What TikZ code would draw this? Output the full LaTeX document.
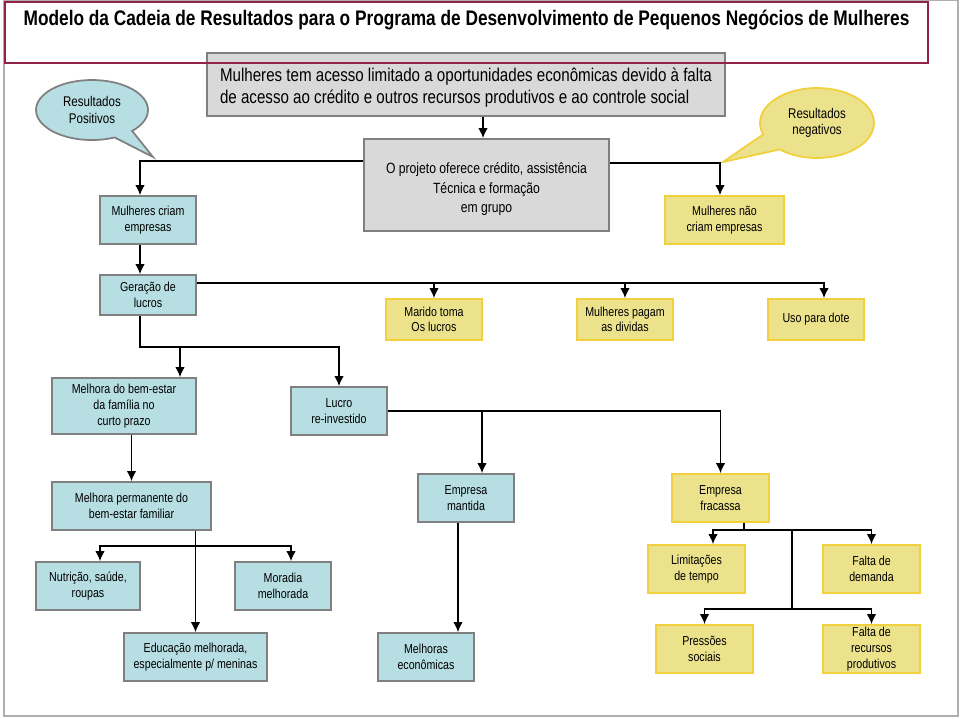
\documentclass[tikz,border=0pt]{standalone}
\usepackage{fontspec}
\setmainfont{Liberation Sans}[FakeStretch=0.82]
\usetikzlibrary{arrows.meta,shapes.callouts}
\definecolor{cxblue}{RGB}{183,222,226}
\definecolor{cxyellow}{RGB}{236,226,140}
\definecolor{cxgold}{RGB}{240,208,60}
\definecolor{cxgray}{RGB}{217,217,217}
\definecolor{cxline}{RGB}{128,128,128}
\definecolor{cxframe}{RGB}{175,175,175}
\definecolor{cxred}{RGB}{145,35,75}
\tikzset{
  box/.style={draw=cxline, line width=1pt, align=center, inner sep=1pt, font=\fontsize{7.4}{8.9}\selectfont},
  bluebox/.style={box, fill=cxblue},
  yellowbox/.style={box, fill=cxyellow, draw=cxgold},
  graybox/.style={box, fill=cxgray},
  wh/.style 2 args={minimum width=#1*0.02cm, minimum height=#2*0.02cm},
  bubble/.style={ellipse callout, line width=1pt, align=center, inner sep=0pt, font=\fontsize{8}{9.2}\selectfont},
  arr/.style={-{Latex[length=2mm,width=1.9mm]}, line width=0.9pt},
  ln/.style={line width=0.9pt}
}
\begin{document}
\begin{tikzpicture}[x=0.02cm,y=-0.02cm]
      \useasboundingbox (0,0) rectangle (960,718);
      \draw[cxframe, line width=1pt] (4,0) rectangle (958,716);
      \node[graybox, wh={518}{63}, align=left, font=\fontsize{10.5}{12.4}\selectfont] (top) at (466,84.5) {\rule{0pt}{11pt}Mulheres tem acesso limitado a oportunidades econômicas devido à falta\\de acesso ao crédito e outros recursos produtivos e ao controle social};
      \draw[cxred, line width=1pt] (5,2) rectangle (928,63);
      \node[font=\bfseries\fontsize{12}{14}\selectfont] (title) at (466.5,20) {Modelo da Cadeia de Resultados para o Programa de Desenvolvimento de Pequenos Negócios de Mulheres};
      \coordinate (postip) at (153,157);
      \coordinate (negtip) at (723,162);
      \node[bubble, draw=cxline, fill=cxblue, wh={112}{60}, callout absolute pointer={(postip)}, callout pointer arc=22] (pos) at (92,110) {Resultados\\Positivos};
      \node[bubble, draw=cxgold, fill=cxyellow, wh={114}{70}, callout absolute pointer={(negtip)}, callout pointer arc=30] (neg) at (817,123) {Resultados\\negativos};
      \node[graybox, wh={245}{92}, font=\fontsize{8.45}{11.1}\selectfont] (projeto) at (486.5,185) {\rule{0pt}{11pt}O projeto oferece crédito, assistência\\Técnica e formação\\em grupo};
      \node[bluebox, wh={96}{48}] (criam) at (148,220) {Mulheres criam\\empresas};
      \node[yellowbox, wh={119}{48}] (naocriam) at (724.5,220) {Mulheres não\\criam empresas};
      \node[bluebox, wh={96}{40}] (geracao) at (148,295) {Geração de\\lucros};
      \node[yellowbox, wh={96}{41}] (marido) at (434,319.5) {Marido toma\\Os lucros};
      \node[yellowbox, wh={96}{41}] (pagam) at (625,319.5) {Mulheres pagam\\as dividas};
      \node[yellowbox, wh={96}{41}] (dote) at (816,319.5) {Uso para dote};
      \node[bluebox, wh={144}{56}] (curto) at (124,406) {Melhora do bem-estar\\da família no\\curto prazo};
      \node[bluebox, wh={96}{48}] (lucro) at (339,411) {Lucro\\re-investido};
      \node[bluebox, wh={96}{48}] (mantida) at (466,498) {Empresa\\mantida};
      \node[yellowbox, wh={97}{48}] (fracassa) at (720.5,498) {Empresa\\fracassa};
      \node[bluebox, wh={159}{48}] (permanente) at (131.5,506) {Melhora permanente do\\bem-estar familiar};
      \node[bluebox, wh={104}{48}] (nutricao) at (88,586) {Nutrição, saúde,\\roupas};
      \node[bluebox, wh={96}{48}] (moradia) at (283,586) {Moradia\\melhorada};
      \node[bluebox, wh={143}{48}] (educacao) at (195.5,657) {Educação melhorada,\\especialmente p/ meninas};
      \node[bluebox, wh={96}{48}] (melhoras) at (426,657) {Melhoras\\econômicas};
      \node[yellowbox, wh={97}{48}] (limitacoes) at (696.5,569) {Limitações\\de tempo};
      \node[yellowbox, wh={97}{48}] (demanda) at (871.5,569) {Falta de\\demanda};
      \node[yellowbox, wh={97}{48}] (pressoes) at (704.5,649) {Pressões\\sociais};
      \node[yellowbox, wh={97}{48}] (recursos) at (871.5,649) {Falta de\\recursos\\produtivos};
      \coordinate (gj) at (140,347);
      \coordinate (lj) at (482,411);
      \coordinate (ej) at (195.5,546);
      \coordinate (fj) at (744,530);
      \coordinate (pj) at (792,609);
      \draw[arr] (483,0 |- top.south) -- (483,0 |- projeto.north);
      \draw[arr] (projeto.west |- 0,161) -| (140,0 |- criam.north);
      \draw[arr] (projeto.east |- 0,163) -| (720,0 |- naocriam.north);
      \draw[arr] (140,0 |- criam.south) -- (140,0 |- geracao.north);
      \draw[arr] (geracao.east |- 0,283) -| (824,0 |- dote.north);
      \draw[arr] (marido.north |- 0,283) -- (marido.north);
      \draw[arr] (pagam.north |- 0,283) -- (pagam.north);
      \draw[arr] (140,0 |- geracao.south) -- (gj) -| (lucro.north);
      \draw[arr] (180,0 |- gj) -- (180,0 |- curto.north);
      \draw[arr] (lucro.east) -| (fracassa.north);
      \draw[arr] (lj) -- (lj |- mantida.north);
      \draw[arr] (permanente.north |- curto.south) -- (permanente.north);
      \draw[arr] (educacao.north |- permanente.south) -- (educacao.north);
      \draw[arr] (ej) -| (100,0 |- nutricao.north);
      \draw[arr] (ej) -| (291,0 |- moradia.north);
      \draw[arr] (458,0 |- mantida.south) -- (458,0 |- melhoras.north);
      \draw[arr] (fj |- fracassa.south) -- (fj) -| (713,0 |- limitacoes.north);
      \draw[arr] (fj) -| (demanda.north);
      \draw[ln] (792,0 |- fj) -- (pj);
      \draw[arr] (pj) -| (pressoes.north);
      \draw[arr] (pj) -| (recursos.north);
\end{tikzpicture}
\end{document}
